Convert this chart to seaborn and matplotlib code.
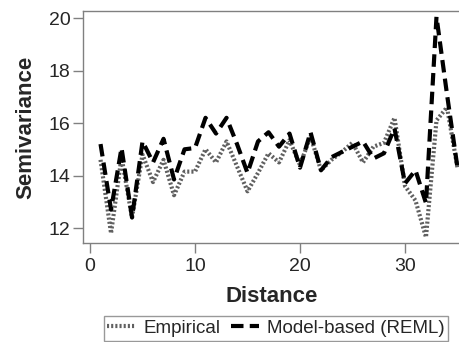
import numpy as np
import pandas as pd
import matplotlib
matplotlib.use("Agg")
import matplotlib.pyplot as plt
import seaborn as sns

sns.set_style("white")
plt.rcParams['font.family'] = ['Liberation Sans', 'DejaVu Sans']

distance = list(range(1, 36))
empirical = [14.6, 11.8, 14.7, 12.4, 14.8, 13.75, 14.6, 13.25, 14.15, 14.15,
             15.0, 14.5, 15.3, 14.35, 13.4, 14.1, 14.85, 14.5, 15.35, 14.4,
             15.5, 14.2, 14.6, 14.9, 15.25, 14.5, 15.1, 15.25, 16.2, 13.6,
             13.05, 11.65, 16.1, 16.6, 14.3]
model_reml = [15.2, 12.7, 15.05, 12.4, 15.3, 14.5, 15.4, 13.85, 15.0, 15.05,
              16.2, 15.6, 16.2, 15.2, 14.1, 15.3, 15.65, 15.1, 15.6, 14.3,
              15.65, 14.2, 14.7, 14.9, 15.1, 15.3, 14.65, 14.85, 15.8, 13.7,
              14.2, 12.95, 20.05, 17.1, 14.3]
methods = ['Empirical', 'Model-based (REML)']
y_ticks = [12, 14, 16, 18, 20]
x_ticks = [0, 10, 20, 30]

df = pd.DataFrame({
    'Distance': distance * 2,
    'Semivariance': empirical + model_reml,
    'Method': [methods[0]] * len(distance) + [methods[1]] * len(distance),
})

fig = plt.figure(figsize=(4.6, 3.42), dpi=100)
ax = fig.add_axes([83 / 460, 99 / 342, 1 - 83 / 460, 232 / 342])

sns.lineplot(data=df, x='Distance', y='Semivariance', hue='Method', style='Method',
             palette={methods[0]: '#606060', methods[1]: 'black'},
             dashes={methods[0]: (0.5, 0.5), methods[1]: (3, 1.5)},
             linewidth=3, ax=ax)

ax.set_xlim(-0.67, 35.24)
ax.set_ylim(11.43, 20.27)
ax.set_xticks(x_ticks)
ax.set_yticks(y_ticks)
ax.tick_params(axis='both', which='both', direction='out', length=7, width=1,
               color='#808080', labelsize=14, pad=2, bottom=True, left=True)
ax.tick_params(axis='x', pad=4)
for side in ['left', 'top', 'bottom']:
    ax.spines[side].set_color('#808080')
    ax.spines[side].set_linewidth(1)
ax.spines['right'].set_visible(False)

ax.set_xlabel('Distance', fontsize=16, fontweight='bold', labelpad=8)
ax.set_ylabel('Semivariance', fontsize=16, fontweight='bold', labelpad=9)

ax.get_legend().remove()
handles = ax.lines[:2]
leg = fig.legend(handles, methods, loc='center', bbox_to_anchor=(0.6, 0.04),
                 ncol=2, fontsize=13.5, frameon=True, fancybox=False,
                 handlelength=1.5, handletextpad=0.4, columnspacing=0.6,
                 borderpad=0.2, borderaxespad=0)
leg.get_frame().set_edgecolor('#808080')
leg.get_frame().set_linewidth(1)

fig.savefig('out.png', dpi=100)
